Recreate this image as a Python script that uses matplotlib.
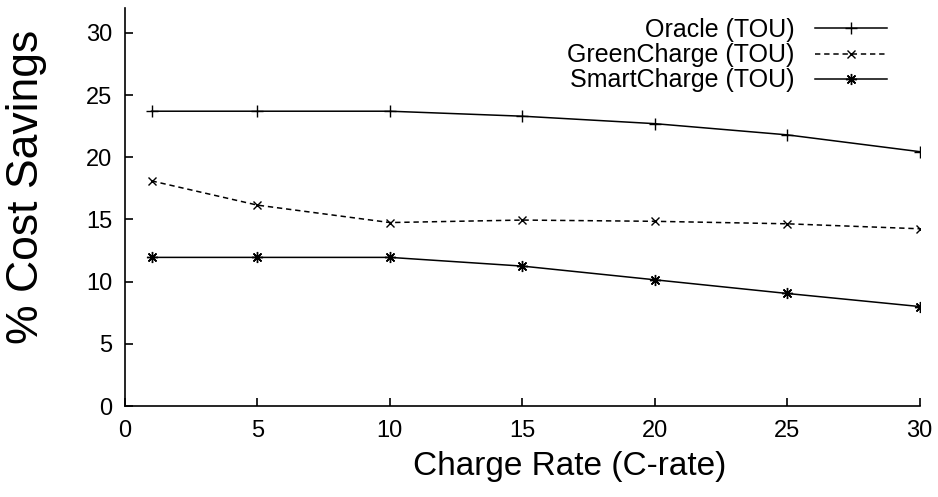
import matplotlib
matplotlib.use("Agg")
import matplotlib.pyplot as plt

charge_rate = [1, 5, 10, 15, 20, 25, 30]
oracle = [23.7, 23.7, 23.7, 23.3, 22.7, 21.8, 20.45]
greencharge = [18.1, 16.15, 14.75, 14.95, 14.85, 14.65, 14.25]
smartcharge = [11.95, 11.95, 11.95, 11.25, 10.15, 9.05, 8.0]
labels = ["Oracle (TOU)", "GreenCharge (TOU)", "SmartCharge (TOU)"]
xticks = [0, 5, 10, 15, 20, 25, 30]
yticks = [0, 5, 10, 15, 20, 25, 30]

plt.rcParams['font.family'] = ['Liberation Sans', 'DejaVu Sans']

fig = plt.figure(figsize=(9.38, 4.97), dpi=100)
ax = fig.add_axes([0.1333, 0.183, 0.847, 0.801])

lw = 1.1
ax.plot(charge_rate, oracle, color='black', lw=lw, marker='+', ms=8, mew=1.0, label=labels[0])
ax.plot(charge_rate, greencharge, color='black', lw=lw, ls=(0, (3.5, 2.5)), marker='x', ms=6, mew=1.0, label=labels[1])
ax.plot(charge_rate, smartcharge, color='black', lw=lw, marker=(8, 2, 0), ms=8, mew=1.0, label=labels[2])

ax.set_xlim(0, 30)
ax.set_ylim(0, 32)
ax.set_xticks(xticks)
ax.set_yticks(yticks)
ax.tick_params(direction='in', length=6, width=1.2, labelsize=17, pad=9)
ax.tick_params(axis='x', pad=10)
for s in ['top', 'right']:
    ax.spines[s].set_visible(False)
for s in ['left', 'bottom']:
    ax.spines[s].set_linewidth(1.2)

ax.set_xlabel("Charge Rate (C-rate)", fontsize=24, va='baseline')
ax.xaxis.set_label_coords(0.56, -0.173)
ax.set_ylabel("% Cost Savings", fontsize=32, va='center')
ax.yaxis.set_label_coords(-0.124, 0.55)

leg = ax.legend(loc='upper right', bbox_to_anchor=(887 / 938, 1 - 18 / 497),
                bbox_transform=fig.transFigure, borderpad=0, borderaxespad=0,
                frameon=False, markerfirst=False,
                fontsize=18, handlelength=2.9, handletextpad=0.8, labelspacing=0.05)

fig.savefig("out.png", dpi=100)
